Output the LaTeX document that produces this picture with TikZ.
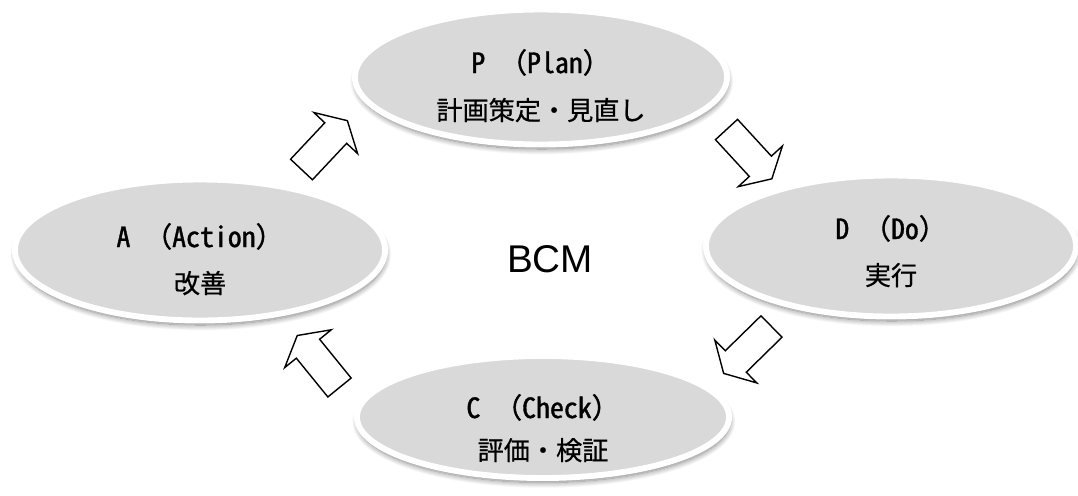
\documentclass[tikz,border=0pt]{standalone}
\usepackage{fontspec}
\newfontfamily\jpfont{Noto Sans CJK JP}[FakeBold=0.6]
% half-width Latin for the phase titles, full-width brackets kept apart
\newfontfamily\jphead{Noto Sans CJK JP}[RawFeature=+hwid, FakeBold=1.3]
\newfontfamily\jpbracket{Noto Sans CJK JP}[FakeBold=1.3]
\newfontfamily\headfont{Liberation Sans}
\newcommand\fwopen{{\jpbracket （}}
\newcommand\fwclose{{\jpbracket ）}}
\usetikzlibrary{shapes.geometric,shadows.blur}
\definecolor{phasegray}{HTML}{D9D9D9}

\tikzset{
  phase/.style={ellipse, draw=white, line width=4.2pt, fill=phasegray, inner sep=0pt,
    blur shadow={shadow xshift=0.6pt, shadow yshift=-3.2pt, shadow blur radius=4pt,
      shadow blur steps=12, shadow opacity=50}},
  phasetitle/.style={anchor=base, inner sep=0pt, font=\jphead\fontsize{19.8pt}{22pt}\selectfont},
  phasesub/.style={anchor=base, inner sep=0pt, font=\jpfont\fontsize{18.6pt}{21pt}\selectfont},
  cyclearrow/.pic={
    \draw[line width=1pt, fill=white, line join=miter]
      (0,-15) -- (50,-15) -- (50,-30) -- (67,0) -- (50,30) -- (50,15) -- (0,15) -- cycle;}
}

\begin{document}
\begin{tikzpicture}[x=0.025cm, y=-0.025cm]
  \useasboundingbox (0,0) rectangle (1078,495);

  % the four phases of the cycle
  \node[phase, minimum width=9.3cm,  minimum height=3.375cm] (P) at (541,77)  {};
  \node[phase, minimum width=9.25cm, minimum height=3.525cm] (A) at (200,250) {};
  \node[phase, minimum width=9.25cm, minimum height=3.525cm] (D) at (891,246) {};
  \node[phase, minimum width=9.3cm,  minimum height=3.05cm]  (C) at (543,417) {};

  \node[phasetitle] (Pt) at (541,73)  {P \fwopen Plan\fwclose};
  \node[phasesub]   (Ps) at (541,120) {計画策定・見直し};
  \node[phasetitle] (At) at (200,247) {A \fwopen Action\fwclose};
  \node[phasesub]   (As) at (200,293) {改善};
  \node[phasetitle] (Dt) at (891,239) {D \fwopen Do\fwclose};
  \node[phasesub]   (Ds) at (891,285) {実行};
  \node[phasetitle] (Ct) at (543,418) {C \fwopen Check\fwclose};
  \node[phasesub]   (Cs) at (543,460) {評価・検証};

  % centre label
  \node[anchor=base, inner sep=0pt, font=\headfont\fontsize{27.5pt}{30pt}\selectfont] (bcm) at (550,272) {BCM};

  % block arrows between the phases
  \pic[rotate=46.8]   at (301.5,169.5) {cyclearrow};
  \pic[rotate=-47.4]  at (726.5,129.5) {cyclearrow};
  \pic[rotate=-135.6] at (771.5,326.5) {cyclearrow};
  \pic[rotate=129.1]  at (339.5,387.5) {cyclearrow};
\end{tikzpicture}
\end{document}
